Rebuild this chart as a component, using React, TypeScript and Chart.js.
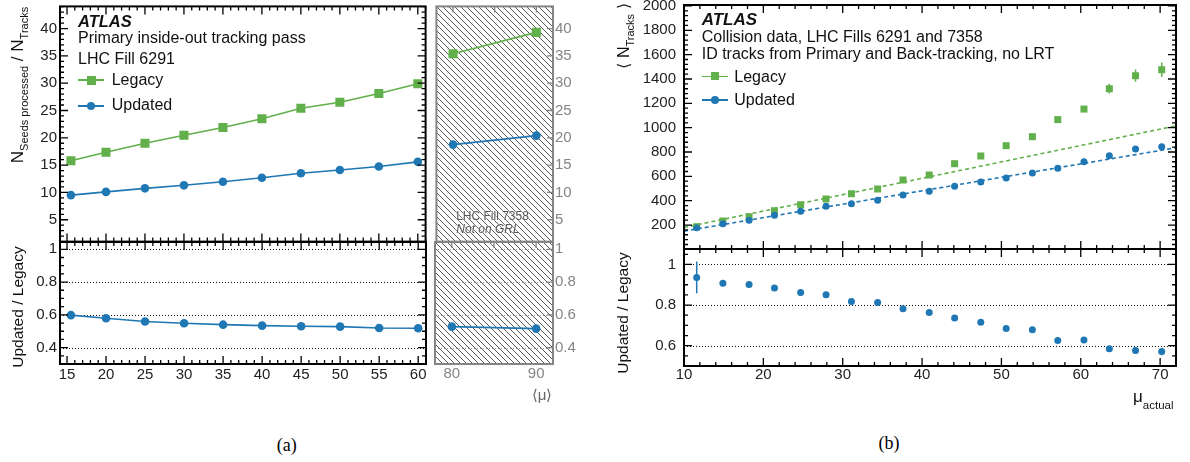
import React, { useEffect, useRef } from "react";
import { Chart, registerables } from "chart.js";
Chart.register(...registerables);

const FONT = "'Liberation Sans', Arial, Helvetica, sans-serif";
const SERIF = "'Liberation Serif', 'Times New Roman', serif";
const GREEN = "#62B04B";
const BLUE = "#1F77B4";
const GRAY = "#858585";

// ---------------- (a) data ----------------
const muA = [15.5, 20, 25, 30, 35, 40, 45, 50, 55, 60];
const seedsLegacyA = [15.8, 17.35, 19.0, 20.45, 21.9, 23.5, 25.4, 26.5, 28.1, 29.9];
const seedsUpdatedA = [9.5, 10.1, 10.75, 11.3, 11.95, 12.7, 13.5, 14.1, 14.75, 15.6];
const ratioA = [0.598, 0.579, 0.559, 0.549, 0.54, 0.534, 0.53, 0.528, 0.52, 0.518];
const muA2 = [80, 90];
const seedsLegacyA2 = [35.4, 39.3];
const seedsUpdatedA2 = [18.75, 20.4];
const ratioA2 = [0.528, 0.516];
const xTicksA = [15, 20, 25, 30, 35, 40, 45, 50, 55, 60];
const yTicksA = [5, 10, 15, 20, 25, 30, 35, 40];
const ratioTicksA = [0.4, 0.6, 0.8, 1];
const xTicksA2 = [80, 90];

// ---------------- (b) data ----------------
const muB = [11.6, 14.9, 18.2, 21.4, 24.7, 27.9, 31.1, 34.4, 37.6, 40.9, 44.1, 47.4, 50.6, 53.9, 57.1, 60.4, 63.6, 66.9, 70.2];
const tracksLegacyB = [186, 233, 268, 318, 367, 414, 457, 496, 570, 611, 704, 767, 852, 926, 1066, 1153, 1320, 1427, 1476];
const tracksLegacyErrB = [0, 0, 0, 0, 0, 0, 0, 0, 0, 0, 0, 0, 0, 10, 15, 20, 40, 50, 60];
const tracksUpdatedB = [178, 211, 239, 280, 313, 354, 375, 403, 447, 477, 518, 553, 586, 627, 666, 720, 770, 825, 844];
const ratioB = [0.936, 0.908, 0.901, 0.884, 0.862, 0.851, 0.818, 0.813, 0.782, 0.764, 0.736, 0.716, 0.685, 0.678, 0.626, 0.628, 0.585, 0.576, 0.571];
const ratioErrB = [0.078, 0.014, 0.01, 0.008, 0.008, 0.008, 0.008, 0.008, 0.008, 0.008, 0.008, 0.008, 0.008, 0.008, 0.01, 0.01, 0.012, 0.015, 0.018];
const fitMuB = [10, 72];
const fitLegacyB = [180, 1015];
const fitUpdatedB = [150, 835];
const xTicksB = [10, 20, 30, 40, 50, 60, 70];
const yTicksB = [200, 400, 600, 800, 1000, 1200, 1400, 1600, 1800, 2000];
const ratioTicksB = [0.6, 0.8, 1];

const pts = (xs: number[], ys: number[]) => xs.map((x, i) => ({ x, y: ys[i] }));

type Rect = { l: number; t: number; r: number; b: number };
interface FrameSpec {
  color: string; lw: number;
  xMajor: number; xMinor: number; yMajor: number; yMinor: number;
  xTop: boolean; xBottom: boolean; yLeft: boolean; yRight: boolean;
  majorLen: number; minorLen: number;
  hatch?: boolean; dotted?: number[]; dottedColor?: string;
}
interface AxisSpec {
  min: number; max: number; ticks: number[]; labels: boolean; size: number;
  padding: number; color: string; font: number; pos?: "left" | "right";
}
interface PanelSpec {
  canvas: Rect; frame: Rect; x: AxisSpec; y: AxisSpec; frameSpec: FrameSpec; datasets: any[];
}

function makeRootPlugin(f: FrameSpec) {
  return {
    id: "rootFrame",
    beforeDatasetsDraw(chart: any) {
      const { ctx, chartArea: a, scales } = chart;
      ctx.save();
      if (f.hatch) {
        const s = 6;
        const tile = document.createElement("canvas");
        tile.width = s; tile.height = s;
        const t = tile.getContext("2d")!;
        t.strokeStyle = "#5a5a5a"; t.lineWidth = 1;
        t.beginPath();
        t.moveTo(0, 0); t.lineTo(s, s);
        t.moveTo(-1, s - 1); t.lineTo(1, s + 1);
        t.moveTo(s - 1, -1); t.lineTo(s + 1, 1);
        t.stroke();
        const pat = ctx.createPattern(tile, "repeat");
        ctx.fillStyle = pat;
        ctx.fillRect(a.left, a.top, a.right - a.left, a.bottom - a.top);
      }
      if (f.dotted) {
        ctx.strokeStyle = f.dottedColor || "#222";
        ctx.lineWidth = 1.1;
        ctx.setLineDash([1, 2]);
        ctx.beginPath();
        for (const v of f.dotted) {
          const y = Math.round(scales.y.getPixelForValue(v)) + 0.5;
          ctx.moveTo(a.left, y); ctx.lineTo(a.right, y);
        }
        ctx.stroke();
      }
      ctx.restore();
    },
    afterDatasetsDraw(chart: any) {
      const { ctx, chartArea: a, scales } = chart;
      ctx.save();
      // error bars
      chart.data.datasets.forEach((ds: any) => {
        if (!ds.errorBars) return;
        ctx.strokeStyle = ds.backgroundColor;
        ctx.lineWidth = 1.5;
        ctx.beginPath();
        ds.data.forEach((p: any, j: number) => {
          const e = ds.errorBars[j];
          if (!e) return;
          const x = scales.x.getPixelForValue(p.x);
          ctx.moveTo(x, scales.y.getPixelForValue(p.y - e));
          ctx.lineTo(x, scales.y.getPixelForValue(p.y + e));
        });
        ctx.stroke();
      });
      // frame
      ctx.strokeStyle = f.color;
      ctx.lineWidth = f.lw;
      ctx.strokeRect(a.left, a.top, a.right - a.left, a.bottom - a.top);
      // ticks
      ctx.lineWidth = 1.3;
      ctx.beginPath();
      const xs = scales.x, ys = scales.y;
      const it = (min: number, max: number, major: number, minor: number, cb: (v: number, len: number) => void) => {
        const i0 = Math.ceil(min / minor - 1e-9), i1 = Math.floor(max / minor + 1e-9);
        for (let i = i0; i <= i1; i++) {
          const v = i * minor;
          const isMajor = Math.abs(v / major - Math.round(v / major)) < 1e-6;
          cb(v, isMajor ? f.majorLen : f.minorLen);
        }
      };
      it(xs.min, xs.max, f.xMajor, f.xMinor, (v, len) => {
        const p = xs.getPixelForValue(v);
        if (f.xBottom) { ctx.moveTo(p, a.bottom); ctx.lineTo(p, a.bottom - len); }
        if (f.xTop) { ctx.moveTo(p, a.top); ctx.lineTo(p, a.top + len); }
      });
      it(ys.min, ys.max, f.yMajor, f.yMinor, (v, len) => {
        const p = ys.getPixelForValue(v);
        if (f.yLeft) { ctx.moveTo(a.left, p); ctx.lineTo(a.left + len, p); }
        if (f.yRight) { ctx.moveTo(a.right, p); ctx.lineTo(a.right - len, p); }
      });
      ctx.stroke();
      ctx.restore();
    },
  };
}

function axisOptions(ax: AxisSpec, horizontal: boolean) {
  return {
    type: "linear",
    min: ax.min,
    max: ax.max,
    position: horizontal ? "bottom" : ax.pos || "left",
    grid: { display: false, drawTicks: false },
    border: { display: false },
    ticks: {
      display: ax.labels,
      padding: ax.padding,
      color: ax.color,
      font: { family: FONT, size: ax.font },
      autoSkip: false,
      maxRotation: 0,
      callback: (v: any) => String(v),
    },
    afterBuildTicks: (s: any) => {
      s.ticks = ax.ticks.map((v) => ({ value: v }));
    },
    afterFit: (s: any) => {
      if (horizontal) s.height = ax.size; else s.width = ax.size;
      s.paddingLeft = 0; s.paddingRight = 0; s.paddingTop = 0; s.paddingBottom = 0;
    },
  };
}

function buildChart(canvas: HTMLCanvasElement, p: PanelSpec) {
  const yRight = p.y.pos === "right";
  const padding = {
    left: p.frame.l - p.canvas.l - (yRight ? 0 : p.y.size),
    right: p.canvas.r - p.frame.r - (yRight ? p.y.size : 0),
    top: p.frame.t - p.canvas.t,
    bottom: p.canvas.b - p.frame.b - p.x.size,
  };
  return new Chart(canvas, {
    type: "scatter",
    data: { datasets: p.datasets },
    options: {
      animation: false,
      responsive: false,
      events: [],
      layout: { padding },
      plugins: { legend: { display: false }, tooltip: { enabled: false } },
      scales: { x: axisOptions(p.x, true), y: axisOptions(p.y, false) } as any,
    },
    plugins: [makeRootPlugin(p.frameSpec)],
  } as any);
}

function ChartCanvas({ spec }: { spec: PanelSpec }) {
  const ref = useRef<HTMLCanvasElement>(null);
  useEffect(() => {
    const chart = buildChart(ref.current!, spec);
    return () => chart.destroy();
  }, []);
  const w = spec.canvas.r - spec.canvas.l;
  const h = spec.canvas.b - spec.canvas.t;
  return (
    <canvas
      ref={ref}
      width={w}
      height={h}
      style={{ position: "absolute", left: spec.canvas.l, top: spec.canvas.t, width: w, height: h }}
    />
  );
}

// ------------- dataset styles -------------
const lineDs = (data: any[], color: string, style: string, r: number) => ({
  data, showLine: true, borderColor: color, backgroundColor: color, borderWidth: 1.6,
  pointStyle: style, pointRadius: r, pointBorderWidth: 0, pointBackgroundColor: color,
});
const markDs = (data: any[], color: string, style: string, r: number, err?: number[]) => ({
  data, showLine: false, borderColor: color, backgroundColor: color,
  pointStyle: style, pointRadius: r, pointBorderWidth: 0, pointBackgroundColor: color, errorBars: err,
});
const fitDs = (data: any[], color: string) => ({
  data, showLine: true, borderColor: color, backgroundColor: color, borderWidth: 1.6,
  borderDash: [4, 3], pointRadius: 0,
});

const frameA: FrameSpec = {
  color: "#000", lw: 2, xMajor: 5, xMinor: 1, yMajor: 5, yMinor: 1,
  xTop: true, xBottom: true, yLeft: true, yRight: true, majorLen: 8, minorLen: 4,
};
const frameRatioA: FrameSpec = { ...frameA, yMajor: 0.2, yMinor: 0.05, dotted: ratioTicksA, dottedColor: "#111" };
const frameMid: FrameSpec = {
  color: GRAY, lw: 2, xMajor: 5, xMinor: 5, yMajor: 5, yMinor: 5,
  xTop: true, xBottom: false, yLeft: false, yRight: true, majorLen: 6, minorLen: 6, hatch: true,
};
const frameMidRatio: FrameSpec = { ...frameMid, yMajor: 0.2, yMinor: 0.2, dotted: ratioTicksA, dottedColor: "#999" };
const frameB: FrameSpec = {
  color: "#000", lw: 2, xMajor: 10, xMinor: 2, yMajor: 200, yMinor: 40,
  xTop: true, xBottom: true, yLeft: true, yRight: true, majorLen: 8, minorLen: 4,
};
const frameRatioB: FrameSpec = { ...frameB, yMajor: 0.2, yMinor: 0.05, dotted: ratioTicksB, dottedColor: "#111" };

const panels: PanelSpec[] = [
  {
    canvas: { l: 0, t: 0, r: 432, b: 248 }, frame: { l: 60, t: 5, r: 426, b: 242 },
    x: { min: 14.1, max: 61.0, ticks: xTicksA, labels: false, size: 0, padding: 0, color: "#222", font: 15 },
    y: { min: 1.0, max: 44.05, ticks: yTicksA, labels: true, size: 60, padding: 3, color: "#222", font: 15 },
    frameSpec: frameA,
    datasets: [
      lineDs(pts(muA, seedsUpdatedA), BLUE, "circle", 4.3),
      lineDs(pts(muA, seedsLegacyA), GREEN, "rect", 6.4),
    ],
  },
  {
    canvas: { l: 0, t: 237, r: 432, b: 395 }, frame: { l: 60, t: 242, r: 426, b: 364 },
    x: { min: 14.1, max: 61.0, ticks: xTicksA, labels: true, size: 25, padding: 2, color: "#222", font: 15 },
    y: { min: 0.3, max: 1.0445, ticks: ratioTicksA, labels: true, size: 60, padding: 3, color: "#222", font: 15 },
    frameSpec: frameRatioA,
    datasets: [lineDs(pts(muA, ratioA), BLUE, "circle", 4.3)],
  },
  {
    canvas: { l: 430, t: 0, r: 590, b: 248 }, frame: { l: 435, t: 5, r: 553, b: 242 },
    x: { min: 78, max: 92, ticks: xTicksA2, labels: false, size: 0, padding: 0, color: GRAY, font: 15 },
    y: { min: 1.0, max: 44.05, ticks: yTicksA, labels: true, size: 30, padding: 2, color: GRAY, font: 15, pos: "right" },
    frameSpec: frameMid,
    datasets: [
      lineDs(pts(muA2, seedsUpdatedA2), BLUE, "circle", 4.3),
      lineDs(pts(muA2, seedsLegacyA2), GREEN, "rect", 6.4),
    ],
  },
  {
    canvas: { l: 430, t: 237, r: 590, b: 395 }, frame: { l: 435, t: 242, r: 553, b: 364 },
    x: { min: 78, max: 92, ticks: xTicksA2, labels: true, size: 25, padding: 1, color: GRAY, font: 15 },
    y: { min: 0.3, max: 1.0445, ticks: ratioTicksA, labels: true, size: 30, padding: 2, color: GRAY, font: 15, pos: "right" },
    frameSpec: frameMidRatio,
    datasets: [lineDs(pts(muA2, ratioA2), BLUE, "circle", 4.3)],
  },
  {
    canvas: { l: 600, t: 0, r: 1182, b: 254 }, frame: { l: 684, t: 5, r: 1176, b: 249 },
    x: { min: 10, max: 72, ticks: xTicksB, labels: false, size: 0, padding: 0, color: "#222", font: 15 },
    y: { min: 3, max: 2008, ticks: yTicksB, labels: true, size: 84, padding: 8, color: "#222", font: 15 },
    frameSpec: frameB,
    datasets: [
      fitDs(pts(fitMuB, fitLegacyB), GREEN),
      fitDs(pts(fitMuB, fitUpdatedB), BLUE),
      markDs(pts(muB, tracksUpdatedB), BLUE, "circle", 3.5),
      markDs(pts(muB, tracksLegacyB), GREEN, "rect", 4.95, tracksLegacyErrB),
    ],
  },
  {
    canvas: { l: 600, t: 244, r: 1182, b: 395 }, frame: { l: 684, t: 249, r: 1176, b: 366 },
    x: { min: 10, max: 72, ticks: xTicksB, labels: true, size: 25, padding: 0, color: "#222", font: 15 },
    y: { min: 0.5, max: 1.076, ticks: ratioTicksB, labels: true, size: 84, padding: 8, color: "#222", font: 15 },
    frameSpec: frameRatioB,
    datasets: [markDs(pts(muB, ratioB), BLUE, "circle", 3.5, ratioErrB)],
  },
];

function T({ x, y, s, children, bold, italic, color, style }: any) {
  return (
    <div
      style={{
        position: "absolute", left: x, top: y, fontSize: s, lineHeight: 1, whiteSpace: "nowrap",
        fontFamily: FONT, fontWeight: bold ? "bold" : "normal", fontStyle: italic ? "italic" : "normal",
        color: color || "#111", ...style,
      }}
    >
      {children}
    </div>
  );
}

function Rot({ cx, cy, s, children }: any) {
  return (
    <div
      style={{
        position: "absolute", left: cx, top: cy, fontSize: s, lineHeight: 1, whiteSpace: "nowrap",
        fontFamily: FONT, color: "#111", transform: "translate(-50%,-50%) rotate(-90deg)",
      }}
    >
      {children}
    </div>
  );
}

const Sub = ({ s, children }: any) => (
  <span style={{ fontSize: s, position: "relative", top: 5 }}>{children}</span>
);

function LegendGlyph({ x1, x2, y, color, shape, size }: any) {
  return (
    <>
      <div style={{ position: "absolute", left: x1, top: y - 0.8, width: x2 - x1, height: 1.6, background: color }} />
      <div
        style={{
          position: "absolute", left: (x1 + x2) / 2 - size / 2, top: y - size / 2, width: size, height: size,
          background: color, borderRadius: shape === "circle" ? "50%" : 0,
        }}
      />
    </>
  );
}

export default function App() {
  return (
    <div style={{ position: "absolute", left: 0, top: 0, width: 1190, height: 462, background: "#fff", overflow: "hidden" }}>
      {panels.map((p, i) => (
        <ChartCanvas key={i} spec={p} />
      ))}

      {/* (a) annotations */}
      <T x={78} y={12.9} s={16.5} bold italic>ATLAS</T>
      <T x={78} y={29.6} s={16}>Primary inside-out tracking pass</T>
      <T x={78} y={51.2} s={16}>LHC Fill 6291</T>
      <LegendGlyph x1={78} x2={104} y={80} color={GREEN} shape="rect" size={9} />
      <T x={111.7} y={71.9} s={16}>Legacy</T>
      <LegendGlyph x1={78} x2={104} y={106} color={BLUE} shape="circle" size={8.5} />
      <T x={111.7} y={96.9} s={16}>Updated</T>
      <T x={492.5} y={210} s={12} color="#555" style={{ transform: "translateX(-50%)", textShadow: "0 0 2px #fff, 0 0 2px #fff" }}>LHC Fill 7358</T>
      <T x={488} y={223.4} s={12} italic color="#555" style={{ transform: "translateX(-50%)", textShadow: "0 0 2px #fff, 0 0 2px #fff" }}>Not on GRL</T>
      <Rot cx={17} cy={85} s={17}>
        N<Sub s={11}>Seeds processed</Sub> / N<Sub s={11}>Tracks</Sub>
      </Rot>
      <Rot cx={18} cy={307} s={15.5}>Updated / Legacy</Rot>
      <T x={542} y={394} s={15} color="#666" style={{ transform: "translate(-50%,-50%)" }}>⟨μ⟩</T>

      {/* (b) annotations */}
      <T x={701.7} y={11.2} s={17} bold italic>ATLAS</T>
      <T x={701.7} y={28.6} s={16}>Collision data, LHC Fills 6291 and 7358</T>
      <T x={701.7} y={46.2} s={16}>ID tracks from Primary and Back-tracking, no LRT</T>
      <LegendGlyph x1={702} x2={728} y={76.3} color={GREEN} shape="rect" size={8} />
      <T x={734.3} y={68.6} s={16}>Legacy</T>
      <LegendGlyph x1={702} x2={728} y={100} color={BLUE} shape="circle" size={8} />
      <T x={734.3} y={92.2} s={16}>Updated</T>
      <Rot cx={624} cy={36} s={16}>
        ⟨ N<Sub s={11}>Tracks</Sub> ⟩
      </Rot>
      <Rot cx={623} cy={313} s={15.5}>Updated / Legacy</Rot>
      <T x={1133} y={388} s={17}>
        μ<span style={{ fontSize: 11.5, position: "relative", top: 7 }}>actual</span>
      </T>

      {/* captions */}
      <div style={{ position: "absolute", left: 286.7, top: 445, transform: "translate(-50%,-50%)", fontFamily: SERIF, fontSize: 18, lineHeight: 1 }}>(a)</div>
      <div style={{ position: "absolute", left: 889, top: 443, transform: "translate(-50%,-50%)", fontFamily: SERIF, fontSize: 18, lineHeight: 1 }}>(b)</div>
    </div>
  );
}
